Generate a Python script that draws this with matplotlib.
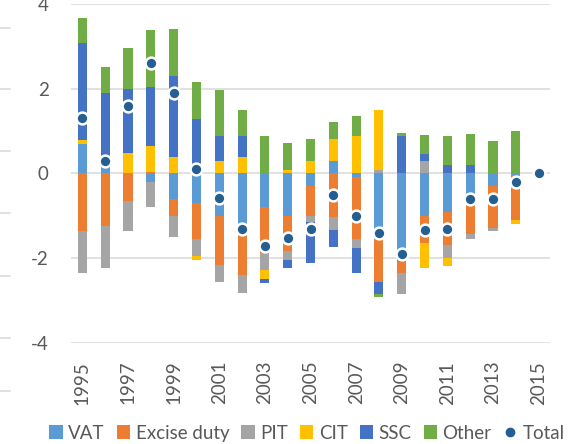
import matplotlib
matplotlib.use("Agg")
import matplotlib.pyplot as plt
import numpy as np
from matplotlib.lines import Line2D
from matplotlib.patches import Patch

plt.rcParams['font.family'] = ['Lato', 'DejaVu Sans']

# Contributions to the change in tax revenue, percentage points of GDP
years = list(range(1995, 2016))
vat = [0.69, 0.13, 0.00, -0.20, -0.61, -0.71, -1.00, -1.31, -0.80, -1.01, -0.30,
       0.30, -0.09, -1.55, -2.09, -1.01, -0.91, -0.50, -0.30, -0.05, 0.00]
excise = [-1.36, -1.24, -0.65, 0.03, -0.39, -0.84, -1.16, -1.10, -1.09, -0.83, -0.70,
          -1.03, -1.46, -1.01, -0.26, -0.63, -0.79, -0.94, -0.98, -1.05, 0.00]
pit = [-1.00, -0.99, -0.71, -0.60, -0.50, -0.40, -0.40, -0.41, -0.39, -0.21, -0.14,
       -0.30, -0.22, 0.07, -0.50, 0.30, -0.30, -0.10, -0.09, 0.00, 0.00]
cit = [0.10, 0.00, 0.49, 0.61, 0.39, -0.10, 0.29, 0.39, -0.22, 0.09, 0.29,
       0.50, 0.89, 1.43, 0.00, -0.60, -0.20, 0.00, 0.00, -0.10, 0.00]
ssc = [2.30, 1.76, 1.50, 1.39, 1.91, 1.29, 0.60, 0.50, -0.09, -0.19, -0.97,
       -0.40, -0.59, -0.30, 0.89, 0.16, 0.19, 0.19, 0.00, 0.00, 0.00]
other = [0.57, 0.63, 0.96, 1.36, 1.10, 0.86, 1.08, 0.61, 0.88, 0.62, 0.51,
         0.42, 0.46, -0.06, 0.06, 0.45, 0.69, 0.75, 0.76, 0.99, 0.00]
total = [1.30, 0.29, 1.59, 2.60, 1.90, 0.10, -0.59, -1.32, -1.71, -1.53, -1.31,
         -0.51, -1.01, -1.42, -1.90, -1.33, -1.31, -0.60, -0.61, -0.21, 0.00]

series = [
    ("VAT", vat, "#5B9BD5"),
    ("Excise duty", excise, "#ED7D31"),
    ("PIT", pit, "#A5A5A5"),
    ("CIT", cit, "#FFC000"),
    ("SSC", ssc, "#4472C4"),
    ("Other", other, "#70AD47"),
]
total_color = "#255E91"
text_color = "#595959"

W, H = 578, 444
fig = plt.figure(figsize=(W / 100, H / 100), dpi=100)
ax = fig.add_axes([71 / W, 1 - 342.7 / H, 479 / W, 338.7 / H])

x = np.arange(len(years))
pos_base = np.zeros(len(years))
neg_base = np.zeros(len(years))
for name, vals, color in series:
    v = np.array(vals, dtype=float)
    p = np.where(v > 0, v, 0.0)
    n = np.where(v < 0, v, 0.0)
    ax.bar(x, p, 0.4, bottom=pos_base, color=color, zorder=2)
    ax.bar(x, n, 0.4, bottom=neg_base, color=color, zorder=2)
    pos_base += p
    neg_base += n

ax.plot(x, total, linestyle="none", marker="o", markersize=8.5,
        markerfacecolor=total_color, markeredgecolor="white",
        markeredgewidth=1.8, zorder=3)

ax.set_xlim(-0.5, len(years) - 0.5)
ax.set_ylim(-4, 4)
ax.set_yticks([-4, -2, 0, 2, 4])
ax.set_yticklabels(["-4", "-2", "0", "2", "4"])
ax.yaxis.grid(True, color="#D9D9D9", linewidth=1.1, zorder=0)
ax.set_axisbelow(True)
for s in ax.spines.values():
    s.set_visible(False)
ax.set_xticks(x[::2])
ax.set_xticklabels([str(y) for y in years[::2]], rotation=90)
ax.tick_params(axis="both", length=0, colors=text_color, labelsize=13.5)
ax.tick_params(axis="y", pad=16)
ax.tick_params(axis="x", pad=13)

handles = [Patch(facecolor=c, edgecolor="none", label=n) for n, _, c in series]
handles.append(Line2D([], [], linestyle="none", marker="o", markersize=6,
                      markerfacecolor=total_color, markeredgecolor=total_color,
                      label="Total"))
fig.legend(handles=handles, loc="center", bbox_to_anchor=(307 / W, 1 - 433 / H),
           ncol=7, frameon=False, handlelength=0.7, handleheight=0.7,
           handletextpad=0.3, columnspacing=0.65, borderaxespad=0,
           prop={"size": 13.5}, labelcolor=text_color)

# edge of the neighbouring panel
for yy in [27.7, 88.7, 151, 213, 275.7, 337.7, 390.7]:
    fig.add_artist(Line2D([0, 10 / W], [1 - yy / H, 1 - yy / H],
                          color="#D9D9D9", linewidth=1.1))

fig.savefig("out.png", dpi=100)
